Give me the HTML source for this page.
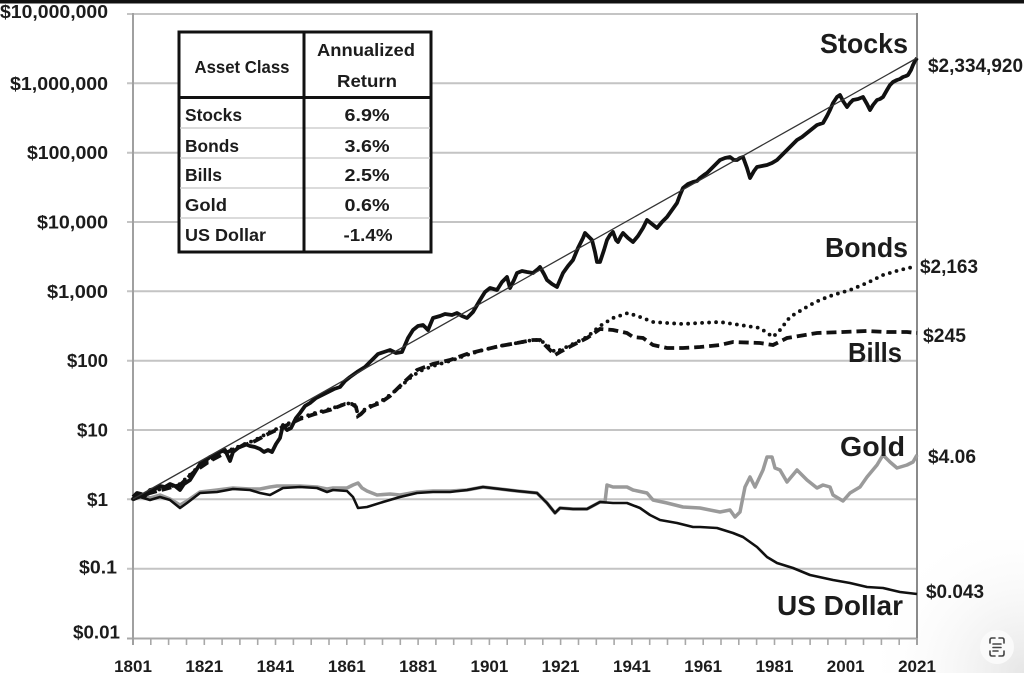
<!DOCTYPE html>
<html>
<head>
<meta charset="utf-8">
<style>
  html,body{margin:0;padding:0;background:#fff;}
  svg{display:block;}
  text{font-family:"Liberation Sans",Arial,sans-serif;fill:#1c1c1c;}
</style>
</head>
<body>
<svg width="1024" height="673" viewBox="0 0 1024 673" xmlns="http://www.w3.org/2000/svg">
  <defs>
    <radialGradient id="sh" cx="1024" cy="673" r="160" gradientUnits="userSpaceOnUse">
      <stop offset="0" stop-color="#e6e6e6"/>
      <stop offset="1" stop-color="#ffffff" stop-opacity="0"/>
    </radialGradient>
  </defs>
  <rect x="0" y="0" width="1024" height="673" fill="#fff"/>
  <rect x="860" y="540" width="164" height="133" fill="url(#sh)"/>
  <rect x="0" y="0" width="1024" height="3.5" fill="#111"/>

  <!-- gridlines -->
  <g stroke="#c4c4c4" stroke-width="2">
    <line x1="127" y1="14" x2="917" y2="14"/>
    <line x1="127" y1="83.3" x2="917" y2="83.3"/>
    <line x1="127" y1="152.7" x2="917" y2="152.7"/>
    <line x1="127" y1="222" x2="917" y2="222"/>
    <line x1="127" y1="291.3" x2="917" y2="291.3"/>
    <line x1="127" y1="360.7" x2="917" y2="360.7"/>
    <line x1="127" y1="430" x2="917" y2="430"/>
    <line x1="127" y1="499.3" x2="917" y2="499.3"/>
    <line x1="127" y1="568.7" x2="917" y2="568.7"/>
  </g>
  <!-- axes -->
  <line x1="127" y1="638.5" x2="917" y2="638.5" stroke="#a8a8a8" stroke-width="2"/>
  <line x1="133" y1="13" x2="133" y2="645" stroke="#a0a0a0" stroke-width="2"/>
  <line x1="917" y1="13" x2="917" y2="645" stroke="#8a8a8a" stroke-width="2"/>
  <g stroke="#a8a8a8" stroke-width="1.6">
    <line x1="150.8" y1="638" x2="150.8" y2="645"/><line x1="168.6" y1="638" x2="168.6" y2="645"/>
    <line x1="186.5" y1="638" x2="186.5" y2="645"/><line x1="204.3" y1="638" x2="204.3" y2="645"/>
    <line x1="222.1" y1="638" x2="222.1" y2="645"/><line x1="239.9" y1="638" x2="239.9" y2="645"/>
    <line x1="257.7" y1="638" x2="257.7" y2="645"/><line x1="275.5" y1="638" x2="275.5" y2="645"/>
    <line x1="293.4" y1="638" x2="293.4" y2="645"/><line x1="311.2" y1="638" x2="311.2" y2="645"/>
    <line x1="329.0" y1="638" x2="329.0" y2="645"/><line x1="346.8" y1="638" x2="346.8" y2="645"/>
    <line x1="364.6" y1="638" x2="364.6" y2="645"/><line x1="382.5" y1="638" x2="382.5" y2="645"/>
    <line x1="400.3" y1="638" x2="400.3" y2="645"/><line x1="418.1" y1="638" x2="418.1" y2="645"/>
    <line x1="435.9" y1="638" x2="435.9" y2="645"/><line x1="453.7" y1="638" x2="453.7" y2="645"/>
    <line x1="471.5" y1="638" x2="471.5" y2="645"/><line x1="489.4" y1="638" x2="489.4" y2="645"/>
    <line x1="507.2" y1="638" x2="507.2" y2="645"/><line x1="525.0" y1="638" x2="525.0" y2="645"/>
    <line x1="542.8" y1="638" x2="542.8" y2="645"/><line x1="560.6" y1="638" x2="560.6" y2="645"/>
    <line x1="578.5" y1="638" x2="578.5" y2="645"/><line x1="596.3" y1="638" x2="596.3" y2="645"/>
    <line x1="614.1" y1="638" x2="614.1" y2="645"/><line x1="631.9" y1="638" x2="631.9" y2="645"/>
    <line x1="649.7" y1="638" x2="649.7" y2="645"/><line x1="667.5" y1="638" x2="667.5" y2="645"/>
    <line x1="685.4" y1="638" x2="685.4" y2="645"/><line x1="703.2" y1="638" x2="703.2" y2="645"/>
    <line x1="721.0" y1="638" x2="721.0" y2="645"/><line x1="738.8" y1="638" x2="738.8" y2="645"/>
    <line x1="756.6" y1="638" x2="756.6" y2="645"/><line x1="774.5" y1="638" x2="774.5" y2="645"/>
    <line x1="792.3" y1="638" x2="792.3" y2="645"/><line x1="810.1" y1="638" x2="810.1" y2="645"/>
    <line x1="827.9" y1="638" x2="827.9" y2="645"/><line x1="845.7" y1="638" x2="845.7" y2="645"/>
    <line x1="863.5" y1="638" x2="863.5" y2="645"/><line x1="881.4" y1="638" x2="881.4" y2="645"/>
    <line x1="899.2" y1="638" x2="899.2" y2="645"/><line x1="917" y1="638" x2="917" y2="645"/>
  </g>

  <!-- y labels -->
  <g font-size="18" font-weight="bold" text-anchor="end">
    <text x="108" y="18" textLength="108" lengthAdjust="spacingAndGlyphs">$10,000,000</text>
    <text x="108" y="89.8" textLength="98" lengthAdjust="spacingAndGlyphs">$1,000,000</text>
    <text x="108" y="159.2" textLength="81" lengthAdjust="spacingAndGlyphs">$100,000</text>
    <text x="108" y="228.5" textLength="71" lengthAdjust="spacingAndGlyphs">$10,000</text>
    <text x="108" y="297.8" textLength="61" lengthAdjust="spacingAndGlyphs">$1,000</text>
    <text x="108" y="367.2" textLength="41" lengthAdjust="spacingAndGlyphs">$100</text>
    <text x="108" y="436.5" textLength="31" lengthAdjust="spacingAndGlyphs">$10</text>
    <text x="108" y="505.8" textLength="21" lengthAdjust="spacingAndGlyphs">$1</text>
    <text x="117" y="573.5" textLength="38" lengthAdjust="spacingAndGlyphs">$0.1</text>
    <text x="120" y="638.5" textLength="47" lengthAdjust="spacingAndGlyphs">$0.01</text>
  </g>

  <!-- x labels -->
  <g font-size="17" font-weight="bold" text-anchor="middle">
    <text x="133" y="672">1801</text>
    <text x="204.3" y="672">1821</text>
    <text x="275.5" y="672">1841</text>
    <text x="346.8" y="672">1861</text>
    <text x="418.1" y="672">1881</text>
    <text x="489.4" y="672">1901</text>
    <text x="560.6" y="672">1921</text>
    <text x="631.9" y="672">1941</text>
    <text x="703.2" y="672">1961</text>
    <text x="774.5" y="672">1981</text>
    <text x="845.7" y="672">2001</text>
    <text x="917" y="672">2021</text>
  </g>

  <!-- gold -->
  <polyline fill="none" stroke="#9a9a9a" stroke-width="3.5" stroke-linejoin="round" points="133,497 140,494 150,498 160,495 170,499 180,505 187,501 200,492 217,490 233,488 250,489 260,489 270,487 277,486 290,486 300,486 317,487 327,489 333,488 347,488 353,485 358,483 362,488 367,491 377,495 390,494 400,495 417,492 433,491 450,491 467,490 483,487 500,489 517,491 537,493 547,503 555,513 560,508 573,509 587,509 600,502 605,502 607,485 613,487 627,487 633,490 647,493 653,500 667,503 683,507 700,508 720,512 730,510 735,517 740,512 745,487 750,477 755,487 763,470 767,457 772,457 775,468 780,470 787,482 797,470 807,480 817,488 823,485 830,487 833,495 843,501 850,493 860,487 867,477 877,465 883,455 890,462 897,468 907,465 913,462 917,455"/>
  <!-- dollar -->
  <polyline fill="none" stroke="#111" stroke-width="2.6" stroke-linejoin="round" points="133,500 140,497 150,500 160,497 170,500 180,508 187,503 200,493 217,492 233,489 250,490 260,493 270,495 283,488 300,487 317,488 327,492 333,490 347,491 353,497 358,508 367,507 383,502 400,497 417,493 433,492 450,492 467,490 483,487 500,489 517,491 537,493 547,503 555,513 560,508 573,509 587,509 600,502 613,503 627,503 640,508 650,515 660,520 677,523 693,527 700,527 717,528 733,533 743,537 757,547 767,557 777,563 793,568 810,575 833,580 850,583 867,587 883,588 900,592 917,594"/>

  <!-- bills (dashed) -->
  <polyline fill="none" stroke="#111" stroke-width="3.8" stroke-dasharray="10 5" points="133,499 150,493 165,489 180,485 195,471 210,461 225,453 240,447 255,441 270,433 285,426 300,419 315,414 330,410 345,404 352,404 356,407 358,416 361,414 365,410 372,406 380,403 390,396 400,386 417,370 433,364 450,360 467,354 483,350 500,346 517,343 533,340 540,340 547,347 555,355 560,352 573,345 587,338 600,329 613,330 627,333 633,337 643,338 653,345 667,348 683,348 700,347 720,345 733,342 760,343 773,345 787,338 817,333 843,332 867,331 887,332 907,332 917,333"/>
  <!-- bonds (dotted) -->
  <polyline fill="none" stroke="#111" stroke-width="3.8" stroke-linecap="round" stroke-dasharray="0 7" points="133,499 150,492 165,488 180,484 195,470 210,460 225,452 240,446 255,440 270,432 285,425 300,418 315,413 330,409 345,404 352,403 356,406 358,416 361,414 365,409 372,405 380,402 390,395 400,387 410,378 420,371 433,366 450,361 467,355 483,350 500,346 517,343 533,340 540,340 547,345 555,352 560,350 573,344 587,337 600,326 613,318 628,313 640,317 653,322 667,323 683,324 700,323 720,322 740,325 760,328 773,337 780,330 790,317 800,311 810,305 820,300 833,295 850,290 867,283 883,275 900,270 913,267 917,267"/>

  <!-- stocks -->
  <polyline fill="none" stroke="#111" stroke-width="3.8" stroke-linejoin="round" points="133,497 137,493 141,494 145,496 150,490 155,489 160,486 165,487 170,484 175,486 180,490 184,484 190,480 195,472 200,464 205,461 210,457 215,455 220,452 225,450 230,461 233,452 238,448 245,444 250,446 255,447 260,449 264,452 268,450 272,452 276,444 280,438 283,425 287,430 291,428 296,418 300,413 305,406 310,403 316,398 322,395 328,392 334,389 340,387 345,381 350,377 357,372 365,367 372,360 378,354 384,352 390,350 396,353 402,352 408,338 413,330 418,326 423,325 428,330 433,318 440,316 445,314 452,315 457,313 462,316 467,318 473,312 480,300 485,292 490,288 497,290 502,282 507,277 510,288 514,280 517,273 522,271 527,272 533,273 538,269 540,267 544,274 547,280 552,284 557,287 563,273 568,266 573,260 578,248 583,238 585,233 589,237 592,240 595,252 597,262 600,262 604,250 607,240 610,235 613,232 616,240 618,242 621,236 623,233 628,238 633,242 638,236 643,228 647,220 652,224 657,228 662,222 667,217 672,210 677,203 680,195 683,188 688,184 693,182 697,181 700,178 704,175 707,173 712,168 717,163 720,160 725,158 730,157 734,160 737,160 740,158 743,157 747,168 750,178 754,171 757,167 762,166 767,165 772,163 777,160 782,155 787,150 792,145 797,140 802,137 807,133 812,129 817,125 820,124 823,123 827,116 830,110 833,103 837,97 840,95 843,101 847,107 850,103 853,100 858,99 863,97 867,104 870,110 873,105 877,100 880,99 883,97 887,90 890,85 893,82 897,80 900,79 903,77 906,76 908,75 911,70 913,65 915,61 917,58"/>
  <!-- trend -->
  <line x1="133" y1="499" x2="917" y2="58" stroke="#333" stroke-width="1.3"/>

  <!-- table -->
  <rect x="179" y="32" width="252" height="220" fill="#fff" stroke="#111" stroke-width="3"/>
  <g stroke="#cfcfcf" stroke-width="1.5">
    <line x1="180" y1="128" x2="430" y2="128"/>
    <line x1="180" y1="158" x2="430" y2="158"/>
    <line x1="180" y1="188" x2="430" y2="188"/>
    <line x1="180" y1="218" x2="430" y2="218"/>
  </g>
  <line x1="179" y1="97.5" x2="431" y2="97.5" stroke="#111" stroke-width="3"/>
  <line x1="304" y1="32" x2="304" y2="252" stroke="#111" stroke-width="3"/>
  <g font-size="17.5" font-weight="bold">
    <text x="242" y="73" text-anchor="middle" textLength="95" lengthAdjust="spacingAndGlyphs">Asset Class</text>
    <text x="366" y="56" text-anchor="middle" textLength="98" lengthAdjust="spacingAndGlyphs">Annualized</text>
    <text x="367" y="87" text-anchor="middle" textLength="60" lengthAdjust="spacingAndGlyphs">Return</text>
    <text x="185" y="121" textLength="57" lengthAdjust="spacingAndGlyphs">Stocks</text>
    <text x="185" y="152" textLength="54" lengthAdjust="spacingAndGlyphs">Bonds</text>
    <text x="185" y="181" textLength="37" lengthAdjust="spacingAndGlyphs">Bills</text>
    <text x="185" y="211" textLength="42" lengthAdjust="spacingAndGlyphs">Gold</text>
    <text x="185" y="241" textLength="81" lengthAdjust="spacingAndGlyphs">US Dollar</text>
    <text x="367" y="121" text-anchor="middle" textLength="45" lengthAdjust="spacingAndGlyphs">6.9%</text>
    <text x="367" y="152" text-anchor="middle" textLength="45" lengthAdjust="spacingAndGlyphs">3.6%</text>
    <text x="367" y="181" text-anchor="middle" textLength="45" lengthAdjust="spacingAndGlyphs">2.5%</text>
    <text x="367" y="211" text-anchor="middle" textLength="45" lengthAdjust="spacingAndGlyphs">0.6%</text>
    <text x="368" y="241" text-anchor="middle" textLength="49" lengthAdjust="spacingAndGlyphs">-1.4%</text>
  </g>

  <!-- series labels -->
  <g font-size="28" font-weight="bold">
    <text x="820" y="53" textLength="88" lengthAdjust="spacingAndGlyphs">Stocks</text>
    <text x="825" y="257" textLength="83" lengthAdjust="spacingAndGlyphs">Bonds</text>
    <text x="848" y="362" textLength="54" lengthAdjust="spacingAndGlyphs">Bills</text>
    <text x="840" y="456" textLength="65" lengthAdjust="spacingAndGlyphs">Gold</text>
    <text x="777" y="615" textLength="126" lengthAdjust="spacingAndGlyphs">US Dollar</text>
  </g>
  <g font-size="19" font-weight="bold">
    <text x="928" y="72" textLength="95" lengthAdjust="spacingAndGlyphs">$2,334,920</text>
    <text x="920" y="273" textLength="58" lengthAdjust="spacingAndGlyphs">$2,163</text>
    <text x="923" y="342" textLength="43" lengthAdjust="spacingAndGlyphs">$245</text>
    <text x="928" y="463" textLength="48" lengthAdjust="spacingAndGlyphs">$4.06</text>
    <text x="926" y="598" textLength="58" lengthAdjust="spacingAndGlyphs">$0.043</text>
  </g>

  <!-- corner icon -->
  <circle cx="997" cy="647" r="17" fill="#fafafa"/>
  <g fill="none" stroke="#444" stroke-width="1.6" stroke-linecap="round">
    <path d="M990,643 v-3 q0,-2 2,-2 h3"/>
    <path d="M999,638 h3 q2,0 2,2 v3"/>
    <path d="M990,651 v3 q0,2 2,2 h3"/>
    <path d="M999,656 h3 q2,0 2,-2 v-3"/>
    <line x1="993" y1="644" x2="1001" y2="644"/>
    <line x1="993" y1="647.5" x2="1001" y2="647.5"/>
    <line x1="993" y1="651" x2="998" y2="651"/>
  </g>
</svg>
</body>
</html>
